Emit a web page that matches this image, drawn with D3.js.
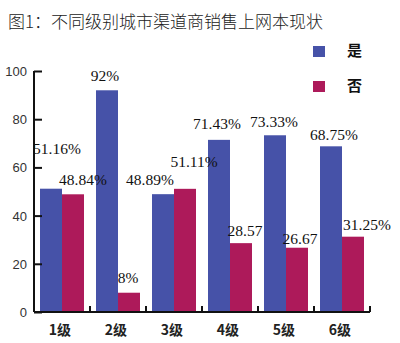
<!DOCTYPE html>
<html>
<head>
<meta charset="utf-8">
<script src="https://cdn.jsdelivr.net/npm/d3@7/dist/d3.min.js"></script>
<style>
  html, body { margin: 0; padding: 0; background: #fff; }
  svg { display: block; }
</style>
</head>
<body>
<svg id="chart" width="400" height="343"></svg>
<script>
// City tiers and share of channel dealers selling netbooks (%)
const categories = ["1级", "2级", "3级", "4级", "5级", "6级"];
const seriesNames = ["是", "否"];
const yesValues = [51.16, 92, 48.89, 71.43, 73.33, 68.75];
const noValues = [48.84, 8, 51.11, 28.57, 26.67, 31.25];
const yesLabels = ["51.16%", "92%", "48.89%", "71.43%", "73.33%", "68.75%"];
const noLabels = ["48.84%", "8%", "51.11%", "28.57", "26.67", "31.25%"];
const yTicks = [0, 20, 40, 60, 80, 100];

const colors = ["#4652a8", "#ad1a5a"];
const svg = d3.select("#chart");
const plotLeft = 34, plotRight = 370, plotTop = 71, plotBottom = 312;

const x = d3.scaleBand().domain(categories).range([plotLeft, plotRight]).paddingInner(0).paddingOuter(0);
const inner = d3.scaleBand().domain(seriesNames).range([6, x.bandwidth() - 6]).padding(0);
const y = d3.scaleLinear().domain([0, 100]).range([plotBottom, plotTop]);

// Title
svg.append("text")
  .attr("x", 8).attr("y", 28)
  .attr("font-family", "'Noto Sans CJK SC', sans-serif")
  .attr("font-size", 17)
  .attr("font-weight", 300)
  .attr("fill", "#222")
  .text("图1：不同级别城市渠道商销售上网本现状");

// Legend
const legend = svg.append("g");
[[46, 54], [81, 93]].forEach((pos, i) => {
  legend.append("rect").attr("x", 313).attr("y", pos[0]).attr("width", 12).attr("height", 11).attr("fill", colors[i]);
  legend.append("text")
    .attr("x", 347).attr("y", pos[0] + 10)
    .attr("font-family", "'Noto Sans CJK SC', sans-serif")
    .attr("font-size", 15).attr("font-weight", 700).attr("fill", "#111")
    .text(seriesNames[i]);
});

// Bars
const rows = categories.map((c, i) => ({ c, vals: [yesValues[i], noValues[i]] }));
const groups = svg.append("g").selectAll("g").data(rows).join("g")
  .attr("transform", d => `translate(${x(d.c)},0)`);
groups.selectAll("rect").data(d => d.vals.map((v, j) => ({ v, s: seriesNames[j], j }))).join("rect")
  .attr("x", d => inner(d.s))
  .attr("width", inner.bandwidth())
  .attr("y", d => y(d.v))
  .attr("height", d => y(0) - y(d.v))
  .attr("fill", d => colors[d.j]);

// Value labels
const labelPos = {
  yes: [[57, 154], [105, 81], [150, 185], [217, 129], [274, 127], [334, 140]],
  no: [[83, 185], [128, 283], [194, 167], [245, 236], [300, 244], [367, 230]]
};
const labelStyle = sel => sel
  .attr("font-family", "'Liberation Serif', 'Times New Roman', serif")
  .attr("font-size", 15.5)
  .attr("fill", "#111")
  .attr("text-anchor", "middle");

svg.append("g").selectAll("text").data(yesLabels).join("text")
  .call(labelStyle)
  .attr("x", (d, i) => labelPos.yes[i][0])
  .attr("y", (d, i) => labelPos.yes[i][1])
  .text(d => d);
svg.append("g").selectAll("text").data(noLabels).join("text")
  .call(labelStyle)
  .attr("x", (d, i) => labelPos.no[i][0])
  .attr("y", (d, i) => labelPos.no[i][1])
  .text(d => d);

// Y axis
const yAxis = svg.append("g")
  .attr("transform", `translate(${plotLeft},0)`)
  .call(d3.axisRight(y).tickValues(yTicks).tickSize(8).tickFormat(""));
yAxis.select(".domain").attr("stroke", "#111").attr("stroke-width", 2).attr("d", `M0,${plotTop}V${plotBottom}`);
yAxis.selectAll(".tick line").attr("stroke", "#111").attr("stroke-width", 2);

svg.append("g").selectAll("text").data(yTicks).join("text")
  .attr("x", 27).attr("y", d => y(d) + 5)
  .attr("text-anchor", "end")
  .attr("font-family", "'Liberation Sans', Arial, sans-serif")
  .attr("font-size", 13)
  .attr("fill", "#333")
  .text(d => d);

// X axis
const xAxis = svg.append("g").attr("transform", `translate(0,${plotBottom})`);
xAxis.append("line").attr("x1", plotLeft).attr("x2", plotRight).attr("y1", 0).attr("y2", 0)
  .attr("stroke", "#111").attr("stroke-width", 2);
xAxis.selectAll("line.sep").data(categories).join("line")
  .attr("class", "sep")
  .attr("x1", d => x(d) + x.bandwidth())
  .attr("x2", d => x(d) + x.bandwidth())
  .attr("y1", 0).attr("y2", -6)
  .attr("stroke", "#111").attr("stroke-width", 2);
xAxis.selectAll("text").data(categories).join("text")
  .attr("x", d => x(d) + x.bandwidth() / 2 - 2)
  .attr("y", 23)
  .attr("text-anchor", "middle")
  .attr("font-family", "'Noto Sans CJK SC', sans-serif")
  .attr("font-size", 14)
  .attr("font-weight", 700)
  .attr("fill", "#222")
  .text(d => d);
</script>
</body>
</html>
